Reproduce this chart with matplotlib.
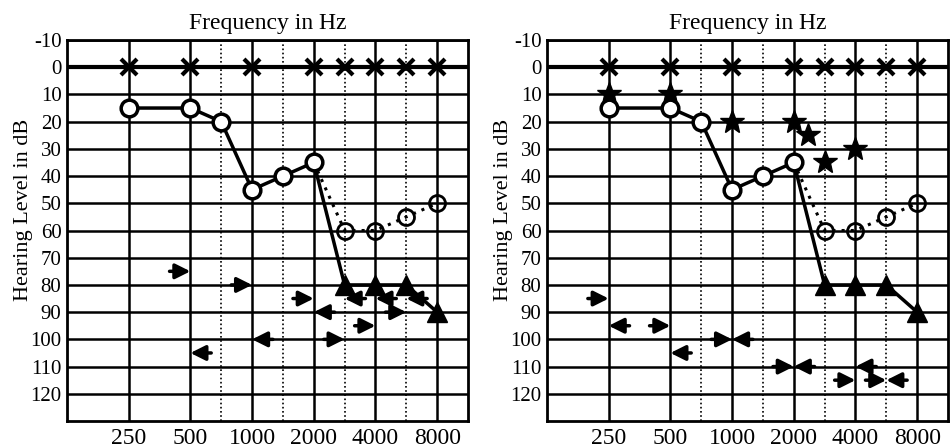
import numpy as np
import matplotlib
matplotlib.use("Agg")
import matplotlib.pyplot as plt

plt.rcParams['font.family'] = ['Liberation Serif', 'DejaVu Serif']

# audiogram frequency layout (Hz), octaves solid, half octaves dotted
octave_freqs = [250, 500, 1000, 2000, 4000, 8000]
half_freqs = [750, 1500, 3000, 6000]
db_ticks = list(range(-10, 121, 10))

# X marks at 0 dB
x_freqs = [250, 500, 1000, 2000, 3000, 4000, 6000, 8000]
x_db = [0, 0, 0, 0, 0, 0, 0, 0]

# circles (solid line)
circ_freqs = [250, 500, 750, 1000, 1500, 2000]
circ_db = [15, 15, 20, 45, 40, 35]

# triangles (solid line, continues from circles)
tri_freqs = [3000, 4000, 6000, 8000]
tri_db = [80, 80, 80, 90]

# dotted branch circles
dot_freqs = [3000, 4000, 6000, 8000]
dot_db = [60, 60, 55, 50]

# stars (right panel only)
star_freqs = [250, 500, 1000, 2000, 2400, 3000, 4000]
star_db = [10, 10, 20, 20, 25, 35, 30]

# arrows: (freq, dB) at the tip
left_right_arrows = [(500, 75), (1000, 80), (2000, 85), (6000, 90), (4000, 95), (3000, 100)]
left_left_arrows = [(500, 105), (3000, 85), (4000, 85), (6000, 85), (2000, 90), (1000, 100)]
right_right_arrows = [(250, 85), (500, 95), (1000, 100), (2000, 110), (4000, 115), (6000, 115)]
right_left_arrows = [(250, 95), (500, 105), (1000, 100), (2000, 110), (4000, 110), (6000, 115)]

# scale: octaves equally spaced, half-octave frequencies at the midpoint
anchor_f = np.log2([125, 250, 500, 750, 1000, 1500, 2000, 3000, 4000, 6000, 8000, 16000])
anchor_p = [-1, 0, 1, 1.5, 2, 2.5, 3, 3.5, 4, 4.5, 5, 6]


def fwd(f):
    f = np.clip(np.asarray(f, dtype=float), 1, None)
    return np.interp(np.log2(f), anchor_f, anchor_p)


def inv(p):
    return 2 ** np.interp(np.asarray(p, dtype=float), anchor_p, anchor_f)


def arrow(ax, f, db, direction):
    dx = -15 if direction == 'right' else 15
    ax.annotate('', xy=(f, db), xytext=(dx, 0), textcoords='offset points',
                arrowprops=dict(arrowstyle='-|>,head_length=0.9,head_width=0.45',
                                mutation_scale=10, lw=2.5, color='black',
                                shrinkA=0, shrinkB=0), zorder=6)


def draw_panel(ax, right_arrows, left_arrows, stars=False):
    ax.set_xscale('function', functions=(fwd, inv))
    ax.set_xlim(125, 250 * 2 ** 5.5)
    ax.set_ylim(130, -10)

    ax.set_xticks(octave_freqs)
    ax.set_xticklabels([str(f) for f in octave_freqs], fontsize=17)
    ax.set_xticks(half_freqs, minor=True)
    ax.set_xticklabels([], minor=True)
    ax.set_yticks(db_ticks)
    ax.set_yticklabels([str(d) for d in db_ticks], fontsize=15)
    ax.tick_params(which='both', length=0)
    ax.tick_params(axis='y', pad=4)
    ax.tick_params(axis='x', pad=5)

    ax.grid(which='major', color='black', lw=1.8)
    ax.grid(which='minor', axis='x', color='black', lw=1.2, ls=(0, (1, 1.5)))
    ax.axhline(0, color='black', lw=3, zorder=1)
    ax.set_axisbelow(True)
    for s in ax.spines.values():
        s.set_linewidth(2)

    # solid line: circles then triangles
    ax.plot(circ_freqs + tri_freqs, circ_db + tri_db, color='black', lw=2.5, zorder=3)
    # dotted branch
    ax.plot(circ_freqs[-1:] + dot_freqs, circ_db[-1:] + dot_db, color='black',
            lw=2.2, ls=(0, (1, 2)), zorder=3)
    ax.plot(dot_freqs, dot_db, ls='none', marker='o', ms=11.5, mfc='none',
            mec='black', mew=2, zorder=4)
    ax.plot(circ_freqs, circ_db, ls='none', marker='o', ms=12, mfc='white',
            mec='black', mew=2.5, zorder=4)
    ax.plot(tri_freqs, tri_db, ls='none', marker='^', ms=15, color='black', zorder=4)
    ax.plot(x_freqs, x_db, ls='none', marker='x', ms=11, mew=3, color='black', zorder=4)
    if stars:
        ax.plot(star_freqs, star_db, ls='none', marker='*', ms=18, color='black', zorder=5)

    for f, db in right_arrows:
        arrow(ax, f, db, 'right')
    for f, db in left_arrows:
        arrow(ax, f, db, 'left')

    ax.set_title('Frequency in Hz', fontsize=17, pad=8)
    ax.set_ylabel('Hearing Level in dB', fontsize=16)
    ax.yaxis.set_label_coords(-0.085, 0.554)


fig = plt.figure(figsize=(9.52, 4.47), dpi=100)
ax1 = fig.add_axes([67 / 952, 1 - 421 / 447, 401 / 952, 381 / 447])
ax2 = fig.add_axes([547 / 952, 1 - 421 / 447, 401 / 952, 381 / 447])

draw_panel(ax1, left_right_arrows, left_left_arrows)
draw_panel(ax2, right_right_arrows, right_left_arrows, stars=True)

fig.savefig('out.png', dpi=100)
